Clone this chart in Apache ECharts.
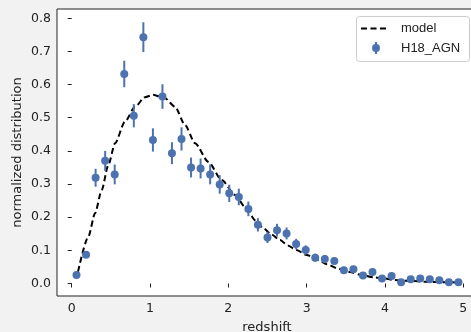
<!DOCTYPE html>
<html>
<head>
<meta charset="utf-8">
<script src="https://cdn.jsdelivr.net/npm/echarts@6/dist/echarts.min.js"></script>
<style>
html,body{margin:0;padding:0;background:#f2f2f2;}
#c{width:471px;height:332px;}
</style>
</head>
<body>
<div id="c"></div>
<script>
// Observed binned data (redshift bin centres, normalized distribution, 1-sigma errors)
var zBins = [0.061,0.183,0.305,0.427,0.549,0.671,0.793,0.915,1.037,1.159,1.280,1.402,1.524,1.646,1.768,1.890,2.012,2.134,2.256,2.378,2.500,2.622,2.744,2.866,2.988,3.110,3.232,3.354,3.476,3.598,3.720,3.841,3.963,4.085,4.207,4.329,4.451,4.573,4.695,4.817,4.939];
var aggVals = [0.026,0.087,0.319,0.370,0.329,0.632,0.506,0.743,0.433,0.564,0.393,0.436,0.350,0.347,0.329,0.299,0.272,0.261,0.225,0.177,0.139,0.161,0.151,0.119,0.101,0.078,0.074,0.068,0.040,0.043,0.024,0.035,0.015,0.023,0.004,0.013,0.015,0.013,0.010,0.004,0.004];
var aggErr = [0.006,0.010,0.027,0.030,0.030,0.040,0.035,0.045,0.035,0.037,0.033,0.035,0.030,0.030,0.030,0.028,0.026,0.025,0.022,0.020,0.017,0.019,0.018,0.016,0.014,0.012,0.012,0.011,0.008,0.008,0.006,0.007,0.005,0.006,0.004,0.004,0.004,0.004,0.004,0.004,0.004];
// Model curve
var modelX = [0.08,0.212,0.298,0.383,0.468,0.553,0.68,0.808,0.936,1.04,1.19,1.32,1.447,1.575,1.745,1.916,2.086,2.21,2.35,2.45,2.55,2.66,2.76,2.87,3.00,3.15,3.26,3.40,3.55,3.68,3.85,4.00,4.11,4.30,4.53,4.75,4.92];
var modelY = [0.035,0.141,0.212,0.282,0.358,0.423,0.488,0.533,0.562,0.569,0.559,0.533,0.478,0.423,0.367,0.312,0.267,0.232,0.190,0.166,0.148,0.131,0.115,0.101,0.086,0.071,0.058,0.045,0.035,0.027,0.019,0.015,0.011,0.008,0.005,0.004,0.003];
var xTicks = [0,1,2,3,4,5];
var yTicks = [0,0.1,0.2,0.3,0.4,0.5,0.6,0.7,0.8];

var blue = '#4c72b0';
var pts = zBins.map(function(z,i){return [z, aggVals[i], aggErr[i]];});
var model = modelX.map(function(x,i){return [x, modelY[i]];});

var chart = echarts.init(document.getElementById('c'), null, {renderer:'canvas'});
chart.setOption({
  animation:false,
  backgroundColor:'#f2f2f2',
  textStyle:{fontFamily:'DejaVu Sans'},
  grid:{left:57, top:9, right:-6, bottom:36, show:true, backgroundColor:'#ffffff', borderColor:'#222', borderWidth:1, containLabel:false, outerBoundsMode:'none'},
  xAxis:{
    type:'value', min:-0.188, max:5.176,
    name:'redshift', nameLocation:'middle', nameGap:25, nameMoveOverlap:false,
    nameTextStyle:{fontSize:13, color:'#222', fontFamily:'DejaVu Sans'},
    axisLine:{show:false},
    splitLine:{show:false},
    axisTick:{show:true, length:4, customValues:xTicks, lineStyle:{color:'#222'}},
    axisLabel:{customValues:xTicks, fontSize:12.5, color:'#222', margin:6, fontFamily:'DejaVu Sans'}
  },
  yAxis:{
    type:'value', min:-0.0377, max:0.828,
    name:'normalized distribution', nameLocation:'middle', nameGap:33, nameRotate:90, nameMoveOverlap:false,
    nameTextStyle:{fontSize:13, color:'#222', fontFamily:'DejaVu Sans'},
    axisLine:{show:false},
    splitLine:{show:false},
    axisTick:{show:true, length:4, customValues:yTicks, lineStyle:{color:'#222'}},
    axisLabel:{customValues:yTicks, fontSize:12.5, color:'#222', margin:6, fontFamily:'DejaVu Sans',
      formatter:function(v){return v.toFixed(1);}}
  },
  series:[
    {name:'model', type:'line', data:model, showSymbol:false, symbol:'none', smooth:0.25, smoothMonotone:'x',
     lineStyle:{color:'#000', width:2, type:[6,3.5]}, z:2},
    {name:'H18_AGN_err', type:'custom', data:pts, z:3,
     renderItem:function(params, api){
       var x=api.value(0), y=api.value(1), e=api.value(2);
       var t=api.coord([x,y+e]), b=api.coord([x,y-e]);
       return {type:'line', shape:{x1:t[0],y1:t[1],x2:b[0],y2:b[1]}, style:{stroke:blue, lineWidth:2}};
     }},
    {name:'H18_AGN', type:'scatter', data:pts, symbolSize:8, itemStyle:{color:blue, opacity:1}, z:4}
  ],
  graphic:[
    {type:'rect', left:356, top:16, shape:{width:113, height:45, r:3}, style:{fill:'rgba(255,255,255,0.8)', stroke:'#cccccc', lineWidth:1}, z:100},
    {type:'line', shape:{x1:361, y1:28.5, x2:389, y2:28.5}, style:{stroke:'#000', lineWidth:2, lineDash:[6,3.5]}, z:101},
    {type:'line', shape:{x1:376, y1:42, x2:376, y2:54}, style:{stroke:blue, lineWidth:2}, z:101},
    {type:'circle', shape:{cx:376, cy:48, r:4}, style:{fill:blue}, z:102},
    {type:'text', x:401, y:28.5, style:{text:'model', fontSize:13, fill:'#222', font:'13px "DejaVu Sans"', verticalAlign:'middle'}, z:101},
    {type:'text', x:401, y:48, style:{text:'H18_AGN', fontSize:13, fill:'#222', font:'13px "DejaVu Sans"', verticalAlign:'middle'}, z:101}
  ]
});
</script>
</body>
</html>
